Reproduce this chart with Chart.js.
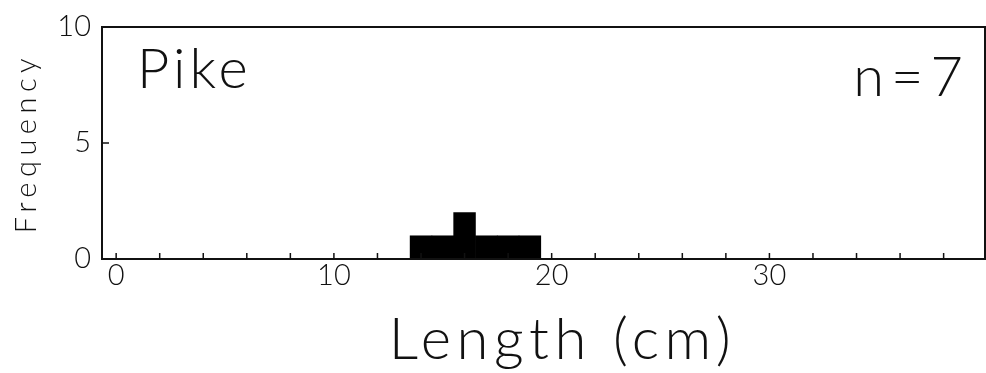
<!DOCTYPE html>
<html>
<head>
<meta charset="utf-8">
<script src="https://cdn.jsdelivr.net/npm/chart.js@4/dist/chart.umd.min.js"></script>
<style>
    html, body { margin: 0; padding: 0; background: #fff; }
    #wrap { width: 986px; height: 373px; }
</style>
</head>
<body>
<div id="wrap"><canvas id="lengthChart" width="986" height="373"></canvas></div>
<script>
// Pike length histogram, 1 cm bins
const binCenters = [14, 15, 16, 17, 18, 19];
const counts = [1, 1, 2, 1, 1, 1];
const xTickLabels = [0, 10, 20, 30];
const yTickLabels = [0, 5, 10];
const panelLabel = 'Pike';
const sampleLabel = 'n=7';

const FONT = "Lato, 'DejaVu Sans', sans-serif";
const WEIGHT = 300;
const INK = '#111';
const TITLE_SHIFT = 19;   // original x title sits a bit right of the plot centre

// Axis titles in the original are widely spaced; tick labels are not.
// Titles live in the z=0 layer, tick labels are moved to z=1 (drawn after datasets).
// Grid and border are off, so the z=0 layer only holds the two titles.
const titleSpacing = {
    id: 'titleSpacing',
    beforeDraw(chart) {
        chart.ctx.save();
        chart.ctx.letterSpacing = '5.5px';
        chart.ctx.translate(TITLE_SHIFT, 0);
    },
    beforeDatasetsDraw(chart) {
        chart.ctx.restore();
        chart.ctx.letterSpacing = '0px';
    }
};

// Box around the plot + small inward ticks, like the original figure
const frameAndTicks = {
    id: 'frameAndTicks',
    afterDraw(chart) {
        const { ctx, chartArea: a, scales } = chart;
        ctx.save();
        ctx.strokeStyle = INK;
        ctx.lineWidth = 2;
        ctx.strokeRect(a.left, a.top, a.right - a.left, a.bottom - a.top);

        ctx.lineWidth = 1.5;
        ctx.beginPath();
        scales.x.ticks.forEach(t => {
            const px = scales.x.getPixelForValue(t.value);
            if (px <= a.left + 1 || px >= a.right - 1) return;
            ctx.moveTo(px, a.bottom);
            ctx.lineTo(px, a.bottom - 6);
        });
        scales.y.ticks.forEach(t => {
            const py = scales.y.getPixelForValue(t.value);
            if (py <= a.top + 1 || py >= a.bottom - 1) return;
            ctx.moveTo(a.left, py);
            ctx.lineTo(a.left + 7, py);
        });
        ctx.stroke();

        // panel annotations
        ctx.fillStyle = INK;
        ctx.textBaseline = 'alphabetic';
        ctx.font = `${WEIGHT} 56px ${FONT}`;
        ctx.letterSpacing = '4px';
        ctx.textAlign = 'left';
        ctx.fillText(panelLabel, a.left + 35, a.top + 61);
        ctx.letterSpacing = '7px';
        ctx.textAlign = 'right';
        ctx.fillText(sampleLabel, a.right - 15, a.top + 69);
        ctx.restore();
        ctx.letterSpacing = '0px';
    }
};

new Chart(document.getElementById('lengthChart'), {
    type: 'bar',
    data: {
        datasets: [{
            data: binCenters.map((x, i) => ({ x: x, y: counts[i] })),
            backgroundColor: '#000',
            borderWidth: 0,
            barPercentage: 1,
            categoryPercentage: 1
        }]
    },
    options: {
        responsive: false,
        animation: false,
        layout: { padding: { left: 0, right: 1, top: 27, bottom: 0 } },
        plugins: {
            legend: { display: false },
            tooltip: { enabled: false }
        },
        scales: {
            x: {
                type: 'linear',
                min: -0.65,
                max: 39.9,
                offset: false,
                grid: { display: false },
                border: { display: false },
                ticks: {
                    z: 1,
                    stepSize: 2,
                    includeBounds: false,
                    autoSkip: false,
                    maxRotation: 0,
                    padding: -9,
                    color: INK,
                    font: { family: FONT, size: 29, weight: WEIGHT },
                    callback: v => xTickLabels.includes(v) ? String(v) : ''
                },
                title: {
                    display: true,
                    text: 'Length (cm)',
                    color: INK,
                    font: { family: FONT, size: 58, weight: WEIGHT, lineHeight: 1.0 },
                    padding: { top: 0, bottom: 4 }
                },
                afterFit: scale => { scale.height = 114; }
            },
            y: {
                min: 0,
                max: 10,
                grid: { display: false },
                border: { display: false },
                ticks: {
                    z: 1,
                    stepSize: 5,
                    padding: 3,
                    color: INK,
                    font: { family: FONT, size: 29, weight: WEIGHT },
                    callback: v => yTickLabels.includes(v) ? String(v) : ''
                },
                title: {
                    display: true,
                    text: 'Frequency',
                    color: INK,
                    font: { family: FONT, size: 29, weight: WEIGHT, lineHeight: 1.2 },
                    // compensates the TITLE_SHIFT applied to the title layer
                    padding: { top: 9 - TITLE_SHIFT, bottom: 0 }
                },
                afterFit: scale => { scale.width = 102; }
            }
        }
    },
    plugins: [titleSpacing, frameAndTicks]
});
</script>
</body>
</html>
